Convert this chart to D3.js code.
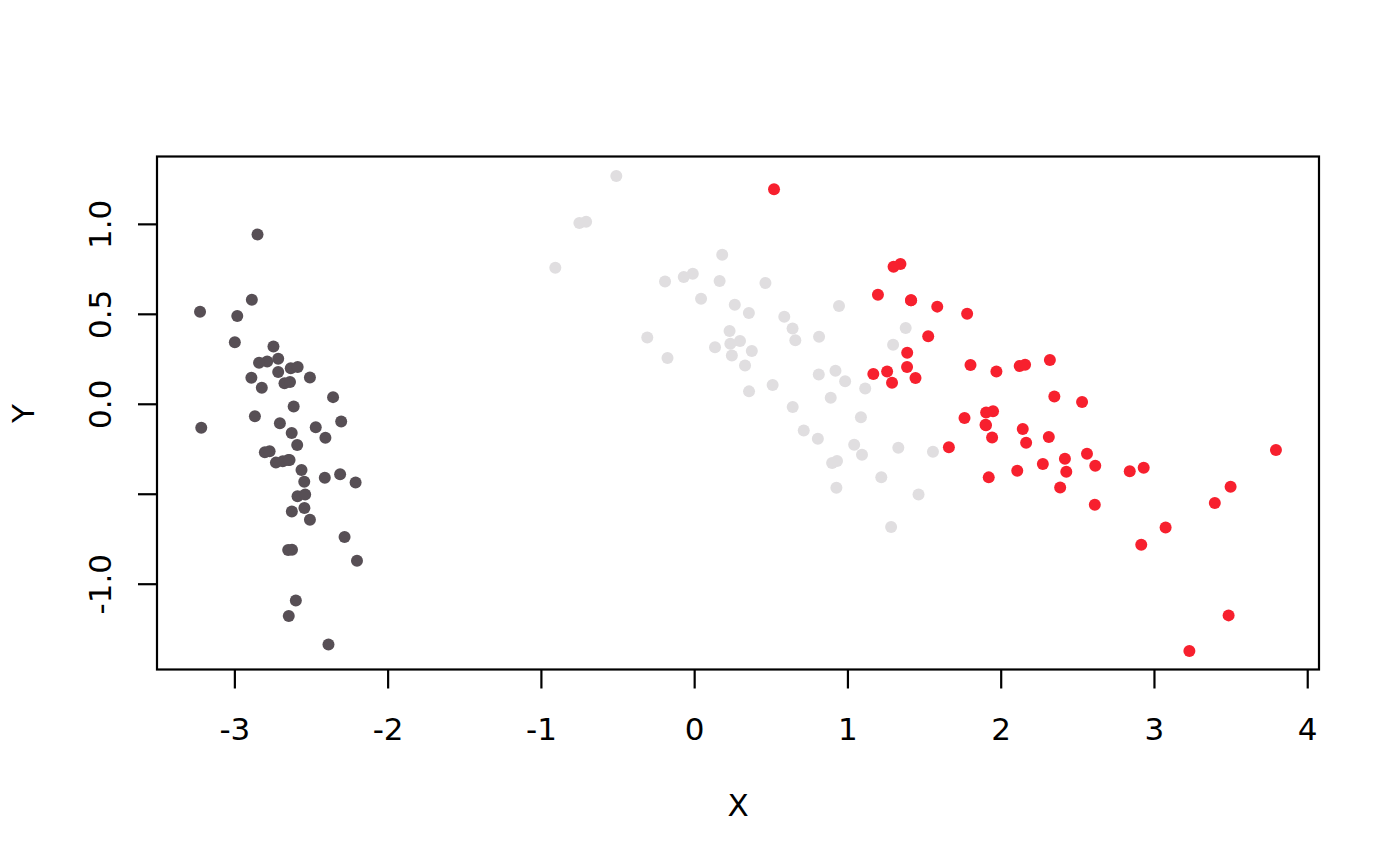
<!DOCTYPE html>
<html>
<head>
<meta charset="utf-8">
<script src="https://cdn.jsdelivr.net/npm/d3@7"></script>
<style>
  html, body { margin: 0; padding: 0; background: #fff; }
  svg { display: block; }
</style>
</head>
<body>
<svg id="chart" width="1400" height="866"></svg>
<script>
// ---- Data (PC1 / PC2 scores per group) ----
const setosaX = [-2.684,-2.714,-2.889,-2.745,-2.729,-2.281,-2.821,-2.626,-2.886,-2.673,-2.507,-2.613,-2.786,-3.224,-2.645,-2.386,-2.624,-2.648,-2.200,-2.588,-2.310,-2.544,-3.216,-2.303,-2.356,-2.507,-2.469,-2.562,-2.640,-2.632,-2.587,-2.410,-2.649,-2.599,-2.637,-2.866,-2.625,-2.801,-2.981,-2.590,-2.770,-2.849,-2.997,-2.406,-2.209,-2.714,-2.538,-2.839,-2.543,-2.703];
const setosaY = [-0.319,0.177,0.145,0.318,-0.327,-0.741,0.089,-0.163,0.578,0.114,-0.645,-0.015,0.235,0.511,-1.179,-1.338,-0.811,-0.312,-0.873,-0.514,-0.391,-0.433,-0.133,-0.099,0.037,0.146,-0.131,-0.368,-0.312,0.197,0.204,-0.411,-0.813,-1.093,0.121,-0.069,-0.599,-0.269,0.488,-0.229,-0.264,0.941,0.342,-0.189,-0.437,0.250,-0.504,0.228,-0.579,-0.108];

const versicolorX = [1.285,0.932,1.464,0.183,1.088,0.642,1.095,-0.749,1.044,-0.009,-0.508,0.512,0.265,0.985,-0.174,0.928,0.660,0.236,0.945,0.045,1.116,0.358,1.298,0.922,0.715,0.900,1.332,1.558,0.813,-0.306,-0.068,-0.190,0.136,1.380,0.588,0.807,1.221,0.815,0.246,0.166,0.465,0.891,0.231,-0.705,0.357,0.332,0.376,0.643,-0.906,0.299];
const versicolorY = [-0.685,-0.318,-0.504,0.828,-0.075,0.418,-0.283,1.005,-0.228,0.723,1.266,0.104,0.550,0.125,0.255,-0.467,0.353,0.334,0.543,0.584,0.085,0.069,0.328,0.183,-0.149,-0.329,-0.244,-0.267,0.163,0.368,0.705,0.680,0.314,0.421,0.484,-0.194,-0.408,0.372,0.269,0.682,0.671,0.034,0.404,1.012,0.505,0.213,0.293,-0.018,0.756,0.349];

const virginicaX = [2.531,1.415,2.617,1.972,2.350,3.397,0.521,2.933,2.321,2.917,1.662,1.803,2.166,1.346,1.586,1.904,1.950,3.487,3.796,1.301,2.428,1.199,3.500,1.389,2.275,2.614,1.259,1.291,2.124,2.388,2.842,3.231,2.159,1.444,1.781,3.076,2.144,1.905,1.169,2.108,2.314,1.922,1.415,2.563,2.419,1.944,1.527,1.764,1.901,1.390];
const virginicaY = [0.010,0.575,-0.344,0.180,0.040,-0.551,1.193,-0.356,0.244,-0.783,-0.242,0.216,-0.216,0.777,0.540,-0.119,-0.042,-1.176,-0.257,0.761,-0.378,0.606,-0.461,0.204,-0.335,-0.561,0.180,0.117,0.210,-0.465,-0.375,-1.374,0.217,0.143,0.500,-0.688,-0.140,-0.049,0.165,-0.372,-0.184,-0.409,0.575,-0.278,-0.305,-0.188,0.375,-0.079,-0.117,0.283];

const groupNames = ["setosa", "versicolor", "virginica"];
const groupColors = ["#574f55", "#e0dee0", "#f7202e"];

const xTicks = [-3, -2, -1, 0, 1, 2, 3, 4];
const xTickLabels = ["-3", "-2", "-1", "0", "1", "2", "3", "4"];
const yTicks = [-1.0, -0.5, 0.0, 0.5, 1.0];
const yTickLabels = ["-1.0", "", "0.0", "0.5", "1.0"];
const xTitle = "X";
const yTitle = "Y";

// ---- Build point table ----
const groupsX = [setosaX, versicolorX, virginicaX];
const groupsY = [setosaY, versicolorY, virginicaY];
const points = [];
groupsX.forEach((xs, g) => xs.forEach((x, i) => points.push({ x, y: groupsY[g][i], g })));

// ---- Layout ----
const box = { left: 157, right: 1319, top: 157, bottom: 670 };
const FONT = "'DejaVu Sans', sans-serif";
const FS = 31;
const LW = 2.2;

// R-style 4% extension
const xExt = d3.extent(points, d => d.x);
const yExt = d3.extent(points, d => d.y);
const xPad = (xExt[1] - xExt[0]) * 0.04;
const yPad = (yExt[1] - yExt[0]) * 0.04;

const x = d3.scaleLinear().domain([xExt[0] - xPad, xExt[1] + xPad]).range([box.left, box.right]);
const y = d3.scaleLinear().domain([yExt[0] - yPad, yExt[1] + yPad]).range([box.bottom, box.top]);

const svg = d3.select("#chart");

// Points
svg.append("g")
  .selectAll("circle")
  .data(points)
  .join("circle")
  .attr("cx", d => x(d.x))
  .attr("cy", d => y(d.y))
  .attr("r", 6)
  .attr("fill", d => groupColors[d.g]);

// Box
svg.append("rect")
  .attr("x", box.left).attr("y", box.top - 0.5)
  .attr("width", box.right - box.left).attr("height", box.bottom - box.top)
  .attr("fill", "none").attr("stroke", "#000").attr("stroke-width", LW);

// X axis
const xAxis = d3.axisBottom(x)
  .tickValues(xTicks)
  .tickFormat((d, i) => xTickLabels[i])
  .tickSize(19)
  .tickSizeOuter(0);
const gx = svg.append("g").attr("transform", `translate(0,${box.bottom - 0.5})`).call(xAxis);
gx.select(".domain").remove();
gx.selectAll(".tick line").attr("stroke", "#000").attr("stroke-width", LW);
gx.selectAll(".tick text")
  .attr("y", 0).attr("dy", 0)
  .attr("transform", `translate(0,${729 - box.bottom + 0.3645 * FS})`)
  .attr("fill", "#000")
  .style("font-family", FONT).style("font-size", FS + "px");

// Y axis
const yAxis = d3.axisLeft(y)
  .tickValues(yTicks)
  .tickFormat((d, i) => yTickLabels[i])
  .tickSize(19)
  .tickSizeOuter(0);
const gy = svg.append("g").attr("transform", `translate(${box.left},0)`).call(yAxis);
gy.select(".domain").remove();
gy.selectAll(".tick line").attr("stroke", "#000").attr("stroke-width", LW);
gy.selectAll(".tick text")
  .attr("x", 0).attr("dy", 0)
  .attr("text-anchor", "middle")
  .attr("transform", `translate(${100 + 0.3645 * FS - box.left},0) rotate(-90)`)
  .attr("fill", "#000")
  .style("font-family", FONT).style("font-size", FS + "px");

// Titles
svg.append("text")
  .attr("x", (box.left + box.right) / 2)
  .attr("y", 804.5 + 0.3645 * FS)
  .attr("text-anchor", "middle")
  .style("font-family", FONT).style("font-size", FS + "px")
  .text(xTitle);

svg.append("text")
  .attr("transform", `translate(${23 + 0.3645 * FS},${(box.top + box.bottom) / 2}) rotate(-90)`)
  .attr("text-anchor", "middle")
  .style("font-family", FONT).style("font-size", FS + "px")
  .text(yTitle);
</script>
</body>
</html>
